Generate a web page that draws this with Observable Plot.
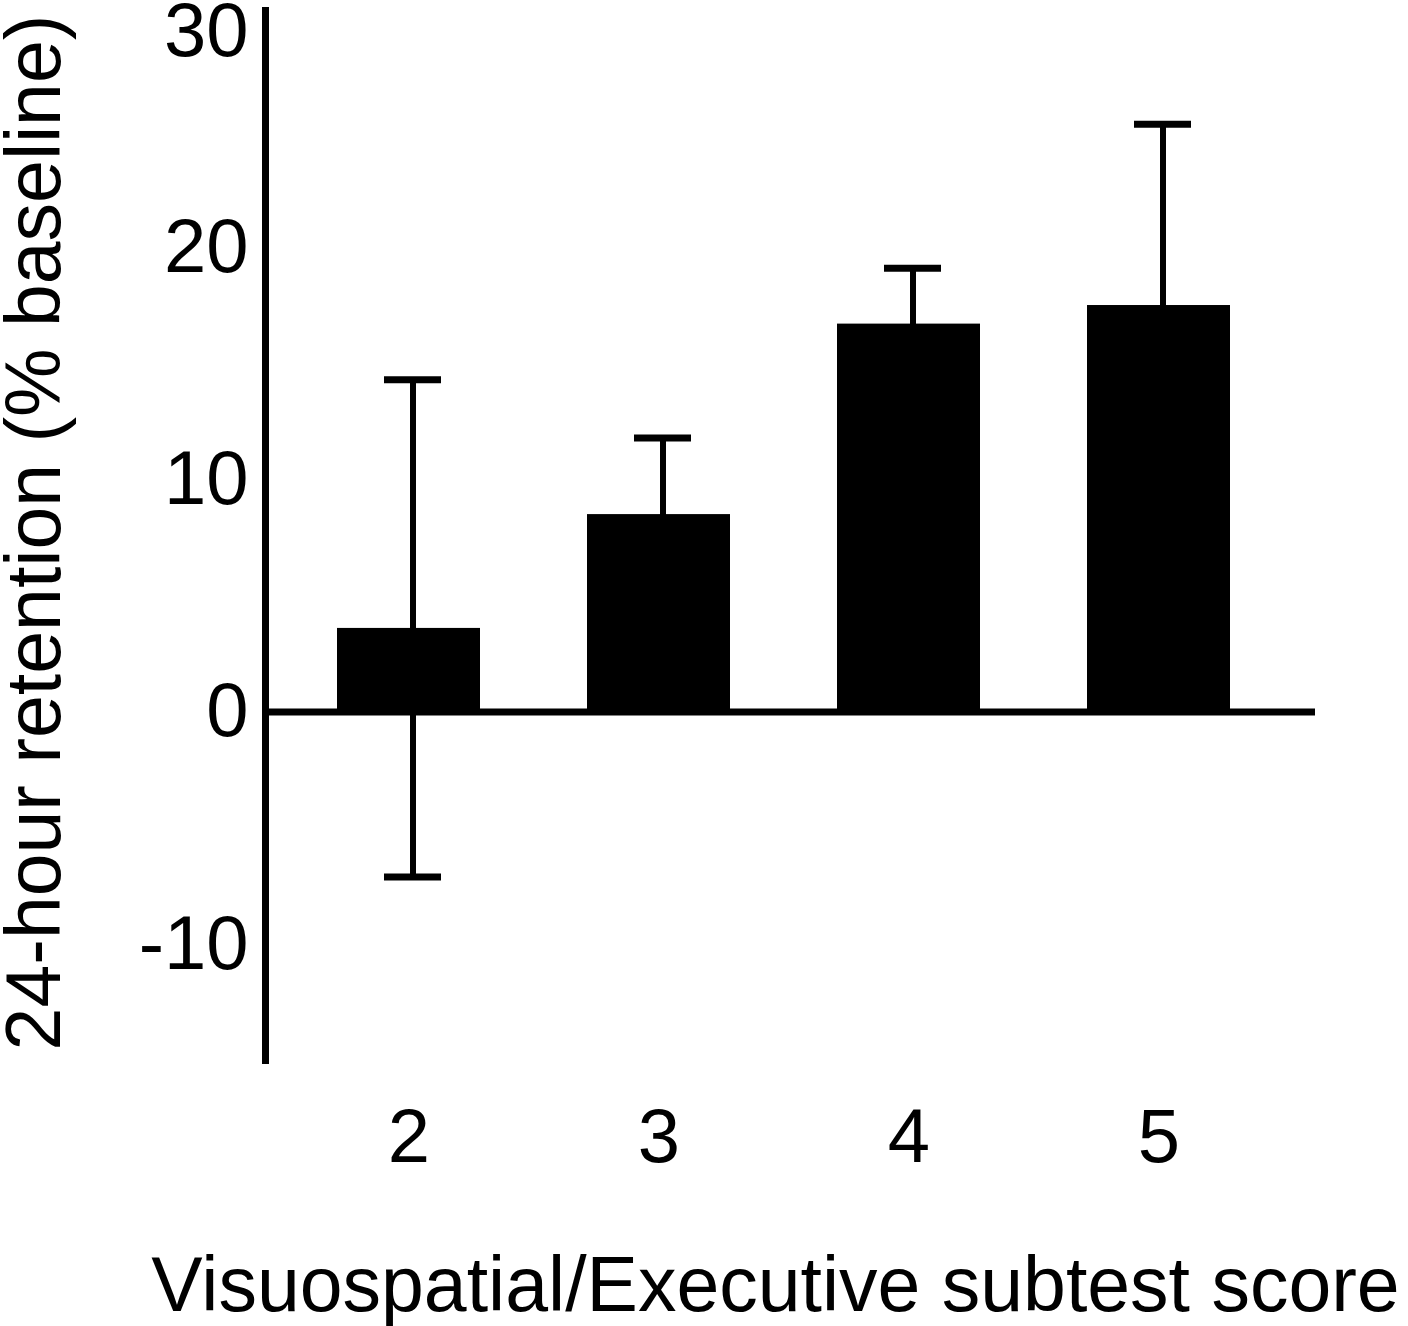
<!DOCTYPE html>
<html><head><meta charset="utf-8">
<script src="https://cdn.jsdelivr.net/npm/d3@7"></script>
<script src="https://cdn.jsdelivr.net/npm/@observablehq/plot@0.6"></script>
<style>html,body{margin:0;background:#fff} #chart svg{display:block}</style>
</head><body><div id="chart"></div>
<script>
const categories = ["2", "3", "4", "5"];
const means = [3.6, 8.5, 16.7, 17.5];
const sems = [10.7, 3.3, 2.4, 7.8];
const yTicks = [-10, 0, 10, 20];
const yTopTick = [30];
const xTitle = "Visuospatial/Executive subtest score";
const yTitle = "24-hour retention (% baseline)";

const data = categories.map((c, i) => ({cat: c, mean: means[i], lo: means[i] - sems[i], hi: means[i] + sems[i]}));
const font = "'Liberation Sans', Arial, Helvetica, sans-serif";
const fs = 76;
const titleFs = 77;
const fmt = d => String(d);

const chart = Plot.plot({
  width: 1408, height: 1326,
  marginLeft: 265, marginRight: 93, marginTop: 10, marginBottom: 266,
  style: {fontFamily: font, background: "#fff", color: "#000"},
  x: {type: "band", domain: categories, range: [211.5, 1354.5], paddingInner: 0.428, paddingOuter: 0.5},
  y: {domain: [-15, 30.2]},
  marks: [
    Plot.ruleX(data, {x: "cat", y1: "lo", y2: "hi", strokeWidth: 6, dx: 4}),
    Plot.tickY(data, {x: "cat", y: "hi", strokeWidth: 7, insetLeft: 43, insetRight: 43, dx: 4}),
    Plot.tickY(data, {x: "cat", y: "lo", strokeWidth: 7, insetLeft: 43, insetRight: 43, dx: 4}),
    Plot.barY(data, {x: "cat", y: "mean", fill: "#000"}),
    Plot.ruleY([0], {strokeWidth: 7}),
    Plot.frame({anchor: "left", strokeWidth: 7}),
    Plot.axisY(yTicks, {tickSize: 0, tickPadding: 17, fontSize: fs, label: null, tickFormat: fmt}),
    Plot.axisY(yTopTick, {tickSize: 0, tickPadding: 17, fontSize: fs, label: null, dy: 17, tickFormat: fmt}),
    Plot.axisX(categories, {tickSize: 0, tickPadding: 48, fontSize: fs, label: null}),
    Plot.text([xTitle], {frameAnchor: "bottom", lineAnchor: "bottom", dy: 250, dx: -15, fontSize: titleFs}),
    Plot.text([yTitle], {frameAnchor: "left", rotate: -90, textAnchor: "middle", lineAnchor: "bottom", dx: -206, dy: -3, fontSize: titleFs})
  ]
});
document.getElementById("chart").appendChild(chart);
</script>
</body></html>
